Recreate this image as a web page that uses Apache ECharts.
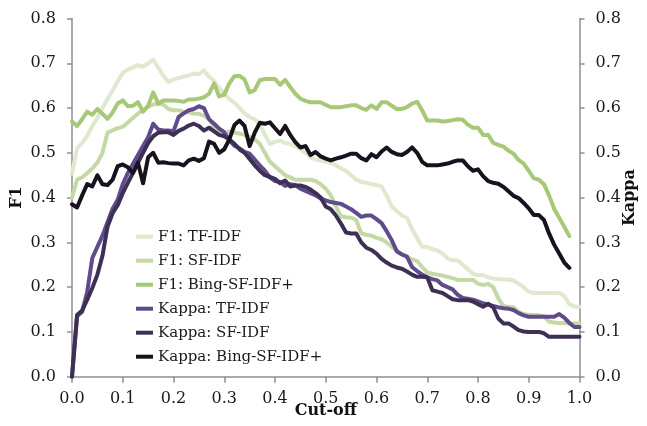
<!DOCTYPE html>
<html><head><meta charset="utf-8">
<script src="https://cdn.jsdelivr.net/npm/echarts@6/dist/echarts.min.js"></script>
<style>html,body{margin:0;padding:0;background:#fff}#c{width:647px;height:426px}</style>
</head><body><div id="c"></div>
<script>
const cutoffs = [0.00,0.01,0.02,0.03,0.04,0.05,0.06,0.07,0.08,0.09,
0.10,0.11,0.12,0.13,0.14,0.15,0.16,0.17,0.18,0.19,
0.20,0.21,0.22,0.23,0.24,0.25,0.26,0.27,0.28,0.29,
0.30,0.31,0.32,0.33,0.34,0.35,0.36,0.37,0.38,0.39,
0.40,0.41,0.42,0.43,0.44,0.45,0.46,0.47,0.48,0.49,
0.50,0.51,0.52,0.53,0.54,0.55,0.56,0.57,0.58,0.59,
0.60,0.61,0.62,0.63,0.64,0.65,0.66,0.67,0.68,0.69,
0.70,0.71,0.72,0.73,0.74,0.75,0.76,0.77,0.78,0.79,
0.80,0.81,0.82,0.83,0.84,0.85,0.86,0.87,0.88,0.89,
0.90,0.91,0.92,0.93,0.94,0.95,0.96,0.97,0.98,0.99,
1.00];

const f1TfIdf = [0.454,0.51,0.522,0.538,0.56,0.578,0.60,0.62,0.639,0.66,
0.678,0.686,0.691,0.696,0.692,0.70,0.708,0.69,0.672,0.658,
0.664,0.667,0.67,0.673,0.677,0.676,0.684,0.67,0.66,0.645,
0.632,0.62,0.612,0.60,0.588,0.58,0.575,0.565,0.54,0.52,
0.525,0.527,0.522,0.52,0.515,0.508,0.50,0.49,0.485,0.483,
0.48,0.478,0.472,0.465,0.46,0.45,0.44,0.435,0.433,0.43,
0.428,0.425,0.405,0.38,0.37,0.36,0.355,0.33,0.31,0.29,
0.29,0.285,0.282,0.275,0.264,0.26,0.26,0.25,0.24,0.23,
0.227,0.227,0.222,0.219,0.218,0.217,0.217,0.215,0.208,0.20,
0.19,0.187,0.187,0.187,0.187,0.187,0.187,0.18,0.162,0.157,
0.156];

const f1SfIdf = [0.40,0.44,0.445,0.455,0.465,0.478,0.50,0.545,0.55,0.555,
0.558,0.568,0.578,0.588,0.595,0.603,0.608,0.61,0.608,0.598,
0.595,0.595,0.592,0.59,0.588,0.587,0.583,0.575,0.557,0.545,
0.543,0.548,0.545,0.543,0.54,0.535,0.53,0.52,0.50,0.48,
0.47,0.46,0.45,0.445,0.44,0.44,0.44,0.44,0.437,0.43,
0.42,0.405,0.38,0.358,0.356,0.355,0.35,0.32,0.317,0.315,
0.31,0.307,0.30,0.29,0.282,0.274,0.268,0.262,0.258,0.245,
0.233,0.23,0.228,0.226,0.223,0.22,0.216,0.216,0.216,0.216,
0.208,0.205,0.207,0.20,0.175,0.158,0.156,0.155,0.145,0.14,
0.138,0.138,0.137,0.135,0.123,0.121,0.12,0.12,0.119,0.119,
0.119];

const f1BingSfIdf = [0.57,0.56,0.575,0.592,0.585,0.598,0.587,0.576,0.59,0.61,
0.617,0.604,0.605,0.613,0.592,0.605,0.635,0.61,0.617,0.617,
0.617,0.616,0.614,0.619,0.619,0.621,0.624,0.632,0.655,0.626,
0.63,0.655,0.671,0.672,0.664,0.635,0.64,0.662,0.665,0.665,
0.665,0.652,0.663,0.647,0.632,0.621,0.616,0.613,0.613,0.613,
0.607,0.602,0.602,0.602,0.604,0.606,0.606,0.60,0.596,0.606,
0.598,0.613,0.613,0.605,0.598,0.598,0.602,0.61,0.614,0.595,
0.572,0.572,0.572,0.57,0.571,0.573,0.575,0.574,0.563,0.556,
0.556,0.54,0.54,0.522,0.518,0.514,0.505,0.498,0.484,0.476,
0.46,0.443,0.44,0.43,0.405,0.375,0.355,0.335,0.314];

const kappaTfIdf = [0.0,0.135,0.145,0.19,0.265,0.29,0.315,0.345,0.375,0.395,
0.43,0.455,0.475,0.495,0.515,0.535,0.565,0.552,0.55,0.55,
0.548,0.58,0.588,0.595,0.598,0.604,0.60,0.575,0.565,0.554,
0.546,0.528,0.516,0.51,0.502,0.498,0.485,0.472,0.46,0.445,
0.437,0.435,0.426,0.43,0.428,0.42,0.415,0.41,0.405,0.398,
0.394,0.39,0.388,0.386,0.38,0.374,0.366,0.357,0.36,0.36,
0.352,0.343,0.325,0.305,0.28,0.273,0.268,0.245,0.236,0.228,
0.222,0.218,0.215,0.205,0.20,0.195,0.183,0.176,0.174,0.172,
0.168,0.164,0.161,0.158,0.155,0.153,0.152,0.149,0.142,0.137,
0.134,0.134,0.134,0.134,0.134,0.134,0.14,0.132,0.12,0.111,
0.111];

const kappaSfIdf = [0.0,0.138,0.148,0.172,0.198,0.228,0.27,0.335,0.365,0.383,
0.41,0.433,0.455,0.478,0.50,0.522,0.537,0.545,0.546,0.546,
0.54,0.549,0.554,0.561,0.565,0.56,0.55,0.556,0.548,0.54,
0.537,0.53,0.52,0.508,0.50,0.486,0.472,0.46,0.45,0.446,
0.442,0.432,0.438,0.425,0.427,0.427,0.424,0.418,0.41,0.40,
0.38,0.374,0.36,0.342,0.322,0.32,0.32,0.30,0.288,0.283,
0.275,0.263,0.255,0.248,0.244,0.241,0.235,0.228,0.223,0.223,
0.222,0.193,0.19,0.187,0.18,0.173,0.171,0.171,0.171,0.168,
0.162,0.156,0.163,0.155,0.13,0.119,0.119,0.112,0.104,0.101,
0.10,0.10,0.10,0.097,0.089,0.089,0.089,0.089,0.089,0.089,
0.089];

const kappaBingSfIdf = [0.385,0.378,0.405,0.43,0.425,0.45,0.43,0.428,0.44,0.47,
0.474,0.468,0.455,0.478,0.432,0.49,0.50,0.478,0.479,0.477,
0.476,0.476,0.472,0.483,0.487,0.482,0.488,0.525,0.52,0.50,
0.508,0.53,0.562,0.572,0.56,0.515,0.545,0.567,0.565,0.568,
0.555,0.542,0.56,0.54,0.524,0.512,0.515,0.495,0.502,0.492,
0.487,0.483,0.487,0.49,0.494,0.498,0.498,0.488,0.483,0.497,
0.49,0.503,0.512,0.502,0.497,0.495,0.502,0.512,0.50,0.48,
0.472,0.472,0.472,0.474,0.476,0.48,0.483,0.483,0.47,0.46,
0.463,0.448,0.437,0.433,0.431,0.424,0.414,0.404,0.399,0.388,
0.376,0.361,0.361,0.35,0.32,0.295,0.275,0.255,0.243];

const seriesNames = ['F1: TF-IDF','F1: SF-IDF','F1: Bing-SF-IDF+','Kappa: TF-IDF','Kappa: SF-IDF','Kappa: Bing-SF-IDF+'];
const seriesValues = [f1TfIdf,f1SfIdf,f1BingSfIdf,kappaTfIdf,kappaSfIdf,kappaBingSfIdf];
const seriesAxis = [0,0,0,1,1,1];
const yTicks = [0,0.8,0.1];
const xTicks = [0,1,0.1];

const palette = ['#dee9cf','#c4d9a4','#a6c877','#604c8d','#3e2f55','#17121e'];
const FONT = 'DejaVu Serif';
const axisGray = '#909090';

const chart = echarts.init(document.getElementById('c'), null, {renderer:'canvas'});

function yAxisCfg(name, pos, gap){
  return {
    type:'value', position:pos, min:yTicks[0], max:yTicks[1], interval:yTicks[2],
    name:name, nameLocation:'middle', nameGap:gap, nameRotate:90, nameMoveOverlap:false,
    nameTextStyle:{fontFamily:FONT, fontWeight:'bold', fontSize:16, color:'#111'},
    axisLine:{show:true, lineStyle:{color:axisGray, width:1.5}},
    axisTick:{show:true, length:5, lineStyle:{color:axisGray, width:1.5}},
    axisLabel:{fontFamily:FONT, fontSize:16, color:'#1a1a1a', margin:16, formatter:v=>v.toFixed(1)},
    splitLine:{show:false}
  };
}

chart.setOption({
  animation:false,
  backgroundColor:'#ffffff',
  grid:{left:72, right:67.5, top:18.5, bottom:49.3, containLabel:false, outerBoundsMode:'none'},
  xAxis:{
    type:'value', min:xTicks[0], max:xTicks[1], interval:xTicks[2],
    name:'Cut-off', nameLocation:'middle', nameGap:26, nameMoveOverlap:false,
    nameTextStyle:{fontFamily:FONT, fontWeight:'bold', fontSize:16, color:'#111', verticalAlign:'top'},
    axisLine:{show:true, lineStyle:{color:axisGray, width:1.5}},
    axisTick:{show:true, length:6, lineStyle:{color:axisGray, width:1.5}},
    axisLabel:{fontFamily:FONT, fontSize:16, color:'#1a1a1a', margin:14, formatter:v=>v.toFixed(1)},
    splitLine:{show:false}
  },
  yAxis:[yAxisCfg('F1','left',47), yAxisCfg('Kappa','right',42)],
  legend:{
    orient:'vertical', left:131, top:219.7, itemGap:0,
    itemWidth:17, itemHeight:4, icon:'rect',
    textStyle:{fontFamily:FONT, fontSize:15, color:'#1a1a1a', lineHeight:24},
    data:seriesNames
  },
  series:seriesNames.map((n,i)=>({
    name:n, type:'line', yAxisIndex:seriesAxis[i],
    showSymbol:false, symbol:'none',
    data:seriesValues[i].map((v,j)=>[cutoffs[j], v]),
    lineStyle:{color:palette[i], width:4, cap:'round', join:'round'},
    itemStyle:{color:palette[i]},
    z:2+i
  }))
});
</script>
</body></html>
